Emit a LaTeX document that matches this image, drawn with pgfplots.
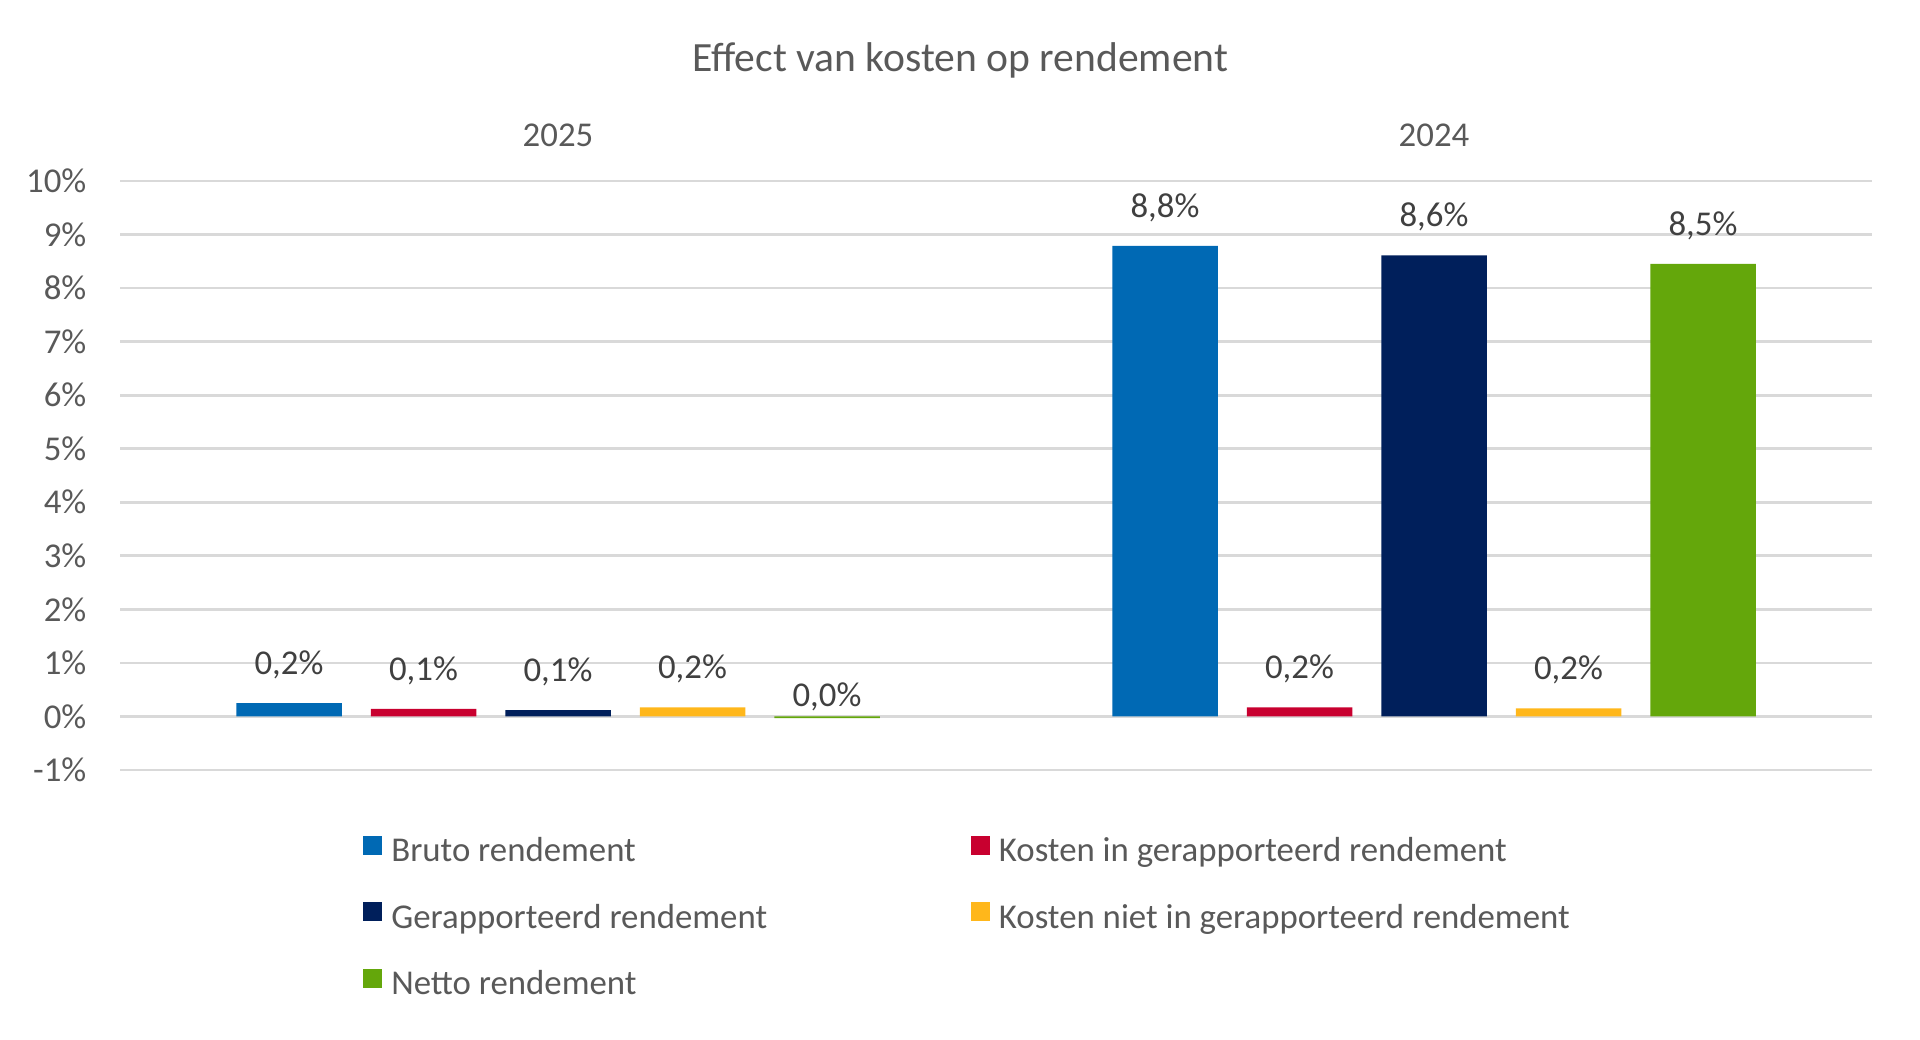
\documentclass[border=0pt]{standalone}
\usepackage{pgfplots}
\usepackage{pgfplotstable}
\pgfplotsset{compat=1.18}
\usepackage{fontspec}
\setmainfont{Carlito}
\definecolor{cbruto}{HTML}{0069B4}
\definecolor{ckin}{HTML}{C8002F}
\definecolor{cgerap}{HTML}{001F5B}
\definecolor{cniet}{HTML}{FFB71B}
\definecolor{cnetto}{HTML}{64A70B}
\definecolor{gridgray}{HTML}{D9D9D9}
\definecolor{txtgray}{HTML}{595959}
\definecolor{lblgray}{HTML}{404040}
\pgfplotstableread{
x y lab
0 0.25 0,2
1 8.79 8,8
}\tbruto
\pgfplotstableread{
x y lab
0 0.14 0,1
1 0.17 0,2
}\tkin
\pgfplotstableread{
x y lab
0 0.12 0,1
1 8.61 8,6
}\tgerap
\pgfplotstableread{
x y lab
0 0.17 0,2
1 0.15 0,2
}\tniet
\pgfplotstableread{
x y lab
0 -0.03 0,0
1 8.45 8,5
}\tnetto
\newcommand{\mainsize}{\fontsize{17.4pt}{20.9pt}\selectfont}
\begin{document}
\begin{tikzpicture}
\path[use as bounding box] (0,0) rectangle (960pt,519.5pt);
\begin{axis}[
  at={(60pt,134.5pt)}, anchor=south west,
  scale only axis, width=876pt, height=294.5pt,
  xmin=-0.5, xmax=1.5, ymin=-1, ymax=10,
  clip=false,
  ybar=14.5pt, bar width=52.75pt,
  axis line style={draw=none},
  major tick length=0pt,
  xtick={0,1}, xticklabels={2025,2024},
  xticklabel pos=upper,
  xticklabel style={anchor=base, yshift=17pt, font=\mainsize, text=txtgray},
  ytick={-1,0,1,2,3,4,5,6,7,8,9,10},
  yticklabels={-1\%,0\%,1\%,2\%,3\%,4\%,5\%,6\%,7\%,8\%,9\%,10\%},
  yticklabel style={anchor=east, inner sep=0pt, xshift=-16.65pt, font=\mainsize, text=txtgray},
  ymajorgrids, major grid style={draw=gridgray, line width=1.35pt},
  point meta=explicit symbolic,
  visualization depends on={y \as \yval},
  nodes near coords={\pgfplotspointmeta\%},
  nodes near coords align={anchor=base},
  every node near coord/.append style={anchor=base, yshift={14.3-8.5*(\yval<0)}, font=\mainsize, text=lblgray},
  legend columns=2,
  legend cell align=left,
  legend image code/.code={\fill[#1] (0pt,0pt) rectangle (9.5pt,9.5pt);},
  legend style={at={(0.1389,-0.1115)}, anchor=north west, draw=none, fill=none,
    inner sep=0pt, outer sep=0pt, row sep=17.3pt,
    nodes={inner sep=0pt, text height=10pt, text depth=3pt, font=\mainsize, text=txtgray},
    /tikz/every odd column/.append style={column sep=4.5pt},
    /tikz/every even column/.append style={column sep=0pt}},
]
\addplot[fill=cbruto, draw=none] table[x=x, y=y, meta=lab] {\tbruto};
\addlegendentry{\makebox[289.8pt][l]{Bruto rendement}}
\addplot[fill=ckin, draw=none] table[x=x, y=y, meta=lab] {\tkin};
\addlegendentry{Kosten in gerapporteerd rendement}
\addplot[fill=cgerap, draw=none] table[x=x, y=y, meta=lab] {\tgerap};
\addlegendentry{\makebox[289.8pt][l]{Gerapporteerd rendement}}
\addplot[fill=cniet, draw=none] table[x=x, y=y, meta=lab] {\tniet};
\addlegendentry{Kosten niet in gerapporteerd rendement}
\addplot[fill=cnetto, draw=none] table[x=x, y=y, meta=lab] {\tnetto};
\addlegendentry{\makebox[289.8pt][l]{Netto rendement}}
\end{axis}
\node[anchor=base, font=\fontsize{20.8pt}{25pt}\selectfont, text=txtgray] at (480.25pt,483.65pt) {Effect van kosten op rendement};
\end{tikzpicture}
\end{document}
